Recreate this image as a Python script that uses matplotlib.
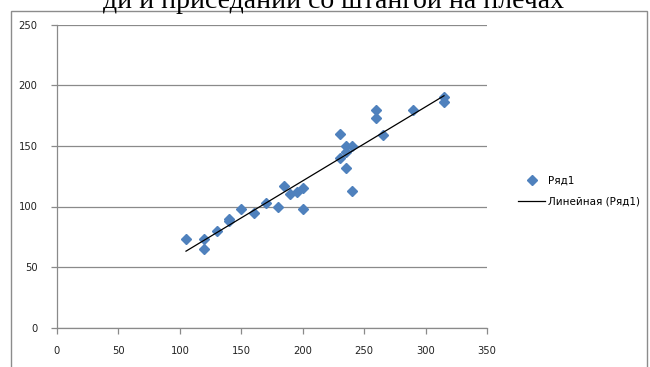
import numpy as np
import matplotlib
matplotlib.use("Agg")
import matplotlib.pyplot as plt
from matplotlib.patches import Rectangle
from matplotlib.lines import Line2D

# Bench press (x) vs squat (y) results
bench = [105, 120, 120, 130, 140, 140, 150, 160, 170, 180, 185, 190, 195, 200,
         200, 230, 230, 235, 235, 235, 240, 240, 260, 260, 265, 290, 315, 315]
squat = [73, 73, 65, 80, 90, 88, 98, 95, 103, 100, 117, 110, 112, 115,
         98, 160, 140, 150, 145, 132, 150, 113, 180, 173, 159, 180, 190, 186]

x_ticks = [0, 50, 100, 150, 200, 250, 300, 350]
y_ticks = [0, 50, 100, 150, 200, 250]
title_tail = "ди и приседании со штангой на плечах"
series_name = "Ряд1"
trend_name = "Линейная (Ряд1)"

W, H = 650, 367
fig = plt.figure(figsize=(W / 100, H / 100), dpi=100)
plt.rcParams['font.family'] = ['DejaVu Sans']

# chart frame
fig.patches.append(Rectangle((11 / W, -0.1), (647 - 11) / W, (H - 11) / H + 0.1,
                             transform=fig.transFigure, fill=False,
                             edgecolor="#8c8c8c", linewidth=1.0))

ax = fig.add_axes([57 / W, (H - 327.7) / H, (487 - 57) / W, (327.7 - 24.7) / H])
grid_c = "#8a8a8a"
ax.set_xlim(x_ticks[0], x_ticks[-1])
ax.set_ylim(y_ticks[0], y_ticks[-1])
ax.set_xticks(x_ticks)
ax.set_yticks(y_ticks)
ax.yaxis.grid(True, color=grid_c, linewidth=0.9)
ax.set_axisbelow(True)
for s in ("top", "right"):
    ax.spines[s].set_visible(False)
for s in ("left", "bottom"):
    ax.spines[s].set_color(grid_c)
    ax.spines[s].set_linewidth(0.9)
ax.tick_params(axis="both", direction="out", length=4, width=0.9, color=grid_c,
               labelsize=7.2, labelcolor="#222222")
ax.tick_params(axis="x", pad=9)
ax.tick_params(axis="y", pad=10)

ax.plot(bench, squat, linestyle="none", marker="D", markersize=5.6,
        color="#4f81bd", markeredgecolor="#4f81bd", zorder=3)

k, b = np.polyfit(bench, squat, 1)
xs = np.array([min(bench), max(bench)])
ax.plot(xs, k * xs + b, color="black", linewidth=0.9, zorder=4)

# title, second line only (first line lies above the frame)
fig.text(333 / W, 1 - 7.5 / H, title_tail, ha="center", va="baseline",
         fontsize=20, family="Liberation Serif", color="black")

handles = [Line2D([], [], linestyle="none", marker="D", markersize=5.6,
                  color="#4f81bd"),
           Line2D([], [], color="black", linewidth=0.9)]
fig.legend(handles, [series_name, trend_name], loc="center left",
           bbox_to_anchor=(513 / W, 1 - 191 / H), frameon=False,
           fontsize=7.5, handlelength=2.6, handletextpad=0.3,
           labelspacing=1.0, borderpad=0)

fig.savefig("out.png", dpi=100)
